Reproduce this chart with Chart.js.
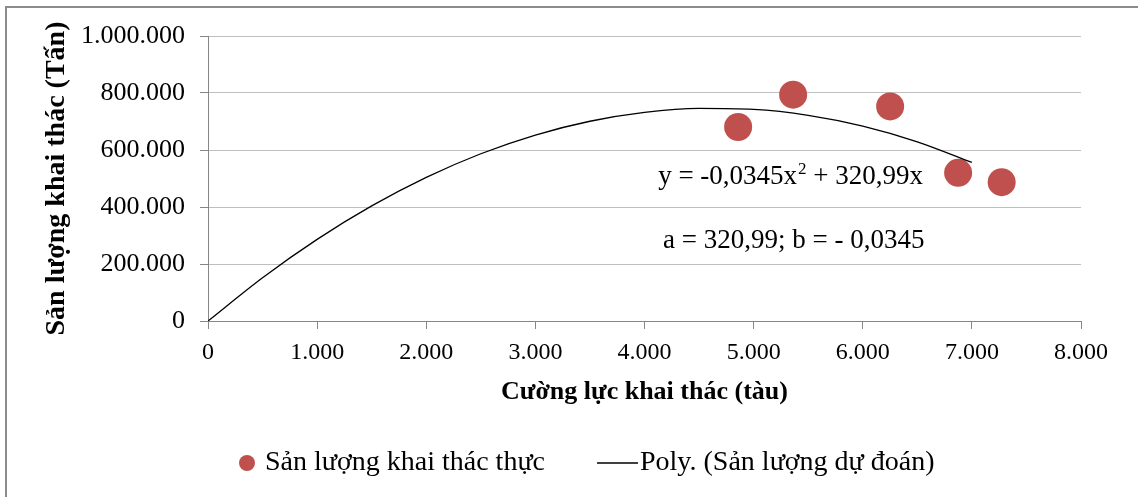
<!DOCTYPE html>
<html>
<head>
<meta charset="utf-8">
<script src="https://cdn.jsdelivr.net/npm/chart.js@4"></script>
<style>
  html, body { margin: 0; padding: 0; background: #fff; overflow: hidden; }
  #frame { position: absolute; left: 5px; top: 6px; width: 2000px; height: 2000px;
           border-left: 2px solid #8c8c8c; border-top: 2px solid #8c8c8c; }
  #wrap { position: absolute; left: 0; top: 0; width: 1138px; height: 497px; }
</style>
</head>
<body>
<div id="frame"></div>
<div id="wrap"><canvas id="chart" width="1138" height="497"></canvas></div>
<script>
/* --- données --- */
const effort   = [4858, 5362, 6251, 6874, 7273];            // tàu
const catchAct = [680700, 794000, 753000, 520000, 487000];  // tấn

/* courbe Poly. (Sản lượng dự đoán) */
const trendX = [0, 500, 1000, 1500, 2000, 2500, 3000, 3500, 4000, 4500, 5000, 5500, 6000, 6500, 7000];
const trendY = [0, 151870, 286490, 403860, 503980, 586850, 652470, 700840, 731960,
                745830, 742450, 721820, 683940, 628810, 556430];

const yTicks = [0, 200000, 400000, 600000, 800000, 1000000];
const xTicks = [0, 1000, 2000, 3000, 4000, 5000, 6000, 7000, 8000];

const labelActual = 'Sản lượng khai thác thực';
const labelTrend  = 'Poly. (Sản lượng dự đoán)';
const eqText      = ['y = -0,0345x', '2', ' + 320,99x'];
const coefText    = 'a = 320,99; b = - 0,0345';

/* --- utilitaires --- */
const SERIF = '"Liberation Serif", "Times New Roman", serif';
const fmt = v => String(v).replace(/\B(?=(\d{3})+(?!\d))/g, '.');
const RED = '#c0504d', AXIS = '#868686', GRID = '#bfbfbf';

/* --- annotations + légende dessinées à la main --- */
const extras = {
  id: 'extras',
  afterDraw(chart) {
    const { ctx, scales: { x, y } } = chart;
    ctx.save();
    ctx.fillStyle = '#000';
    ctx.textBaseline = 'middle';

    // équation
    let px = x.getPixelForValue(4125), py = y.getPixelForValue(505000);
    ctx.font = `27px ${SERIF}`;
    ctx.fillText(eqText[0], px, py);
    px += ctx.measureText(eqText[0]).width + 1;
    ctx.font = `17px ${SERIF}`;
    ctx.fillText(eqText[1], px, py - 8);
    px += ctx.measureText(eqText[1]).width;
    ctx.font = `27px ${SERIF}`;
    ctx.fillText(eqText[2], px, py);

    ctx.fillText(coefText, x.getPixelForValue(4170), y.getPixelForValue(280000));

    // légende
    const ly = 463;
    ctx.font = `28px ${SERIF}`;
    ctx.fillStyle = chart.data.datasets[0].backgroundColor;
    ctx.beginPath();
    ctx.arc(247, ly, 8, 0, Math.PI * 2);
    ctx.fill();
    ctx.fillStyle = '#000';
    ctx.fillText(chart.data.datasets[0].label, 265, ly);

    ctx.strokeStyle = chart.data.datasets[1].borderColor;
    ctx.lineWidth = 1.3;
    ctx.beginPath();
    ctx.moveTo(597, ly);
    ctx.lineTo(638, ly);
    ctx.stroke();
    ctx.fillText(chart.data.datasets[1].label, 640, ly);
    ctx.restore();
  }
};

/* --- graphique --- */
new Chart(document.getElementById('chart'), {
  type: 'scatter',
  data: {
    datasets: [
      {
        label: labelActual,
        data: effort.map((e, i) => ({ x: e, y: catchAct[i] })),
        backgroundColor: RED,
        borderWidth: 0,
        pointRadius: 14,
        pointHoverRadius: 14,
        order: 2
      },
      {
        type: 'line',
        label: labelTrend,
        data: trendX.map((e, i) => ({ x: e, y: trendY[i] })),
        borderColor: '#000',
        borderWidth: 1.3,
        pointRadius: 0,
        fill: false,
        cubicInterpolationMode: 'monotone',
        order: 1
      }
    ]
  },
  options: {
    responsive: false,
    animation: false,
    layout: { padding: { top: 36, right: 57, bottom: 0, left: 0 } },
    plugins: { legend: { display: false }, tooltip: { enabled: false } },
    scales: {
      x: {
        type: 'linear',
        min: 0, max: 8000,
        afterBuildTicks: s => { s.ticks = xTicks.map(v => ({ value: v })); },
        afterFit: s => { s.height = 176; },
        grid: { drawOnChartArea: false, tickLength: 8, tickColor: AXIS, color: AXIS },
        border: { color: AXIS, width: 1 },
        ticks: { color: '#000', padding: 9, maxRotation: 0,
                 font: { family: SERIF, size: 24 }, callback: v => fmt(v) },
        title: { display: true, text: 'Cường lực khai thác (tàu)', color: '#000',
                 font: { family: SERIF, size: 26, weight: 'bold' },
                 padding: { top: 0, bottom: 89 } }
      },
      y: {
        min: 0, max: 1000000,
        afterBuildTicks: s => { s.ticks = yTicks.map(v => ({ value: v })); },
        afterFit: s => { s.width = 208; },
        grid: { color: GRID, tickLength: 8, tickColor: AXIS },
        border: { color: AXIS, width: 1 },
        ticks: { color: '#000', padding: 15,
                 font: { family: SERIF, size: 26 }, callback: v => fmt(v) },
        title: { display: true, text: 'Sản lượng khai thác (Tấn)', color: '#000',
                 font: { family: SERIF, size: 28, weight: 'bold' },
                 padding: { top: 40, bottom: 0 } }
      }
    }
  },
  plugins: [extras]
});
</script>
</body>
</html>
